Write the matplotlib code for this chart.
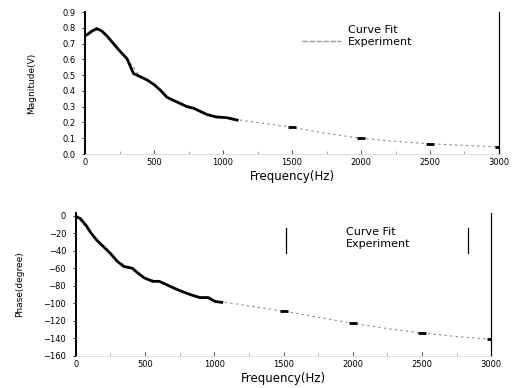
import matplotlib
matplotlib.use("Agg")
import matplotlib.pyplot as plt
from matplotlib.ticker import MultipleLocator
from matplotlib.lines import Line2D

# magnitude, measured (dense part) and a few sparse points
exp_freq_mag = [0, 20, 50, 85, 120, 157, 205, 254, 303, 351, 400, 448, 500,
                545, 593, 640, 690, 740, 787, 835, 884, 950, 1029, 1102]
exp_mag = [0.75, 0.76, 0.78, 0.795, 0.78, 0.75, 0.70, 0.65, 0.605, 0.51, 0.49,
           0.47, 0.44, 0.405, 0.36, 0.34, 0.32, 0.30, 0.29, 0.27, 0.25, 0.235,
           0.23, 0.215]
exp_freq_mag_hi = [1500, 2000, 2500, 3000]
exp_mag_hi = [0.17, 0.10, 0.065, 0.045]

fit_freq_mag = [0, 100, 200, 300, 400, 500, 600, 700, 800, 900, 1000, 1250,
                1500, 1750, 2000, 2250, 2500, 2750, 3000]
fit_mag = [0.75, 0.79, 0.70, 0.61, 0.49, 0.44, 0.36, 0.32, 0.29, 0.25, 0.23,
           0.20, 0.17, 0.13, 0.10, 0.08, 0.065, 0.055, 0.045]

# phase
exp_freq_ph = [0, 10, 30, 73, 110, 151, 200, 249, 298, 346, 407, 444, 493,
               554, 602, 651, 712, 773, 834, 895, 956, 1005, 1054]
exp_phase = [0, -2, -3, -11, -20, -28, -35.5, -43, -52, -58, -60, -65, -71,
             -75, -75, -78.5, -83, -87, -90.5, -93.5, -93.5, -98, -99]
exp_freq_ph_hi = [1500, 2000, 2500, 3000]
exp_phase_hi = [-109, -123, -134, -141]

fit_freq_ph = [0, 100, 200, 300, 400, 500, 600, 700, 800, 900, 1000, 1250,
               1500, 1750, 2000, 2250, 2500, 2750, 3000]
fit_phase = [0, -18, -36, -52, -60, -71, -75, -82, -88, -93, -97, -103,
             -109, -116, -123, -129, -134, -138, -141]

xticks = [0, 500, 1000, 1500, 2000, 2500, 3000]
mag_ticks = [0.0, 0.1, 0.2, 0.3, 0.4, 0.5, 0.6, 0.7, 0.8, 0.9]
phase_ticks = [0, -20, -40, -60, -80, -100, -120, -140, -160]

plt.rcParams['font.family'] = ['DejaVu Sans']

fig = plt.figure(figsize=(5.16, 3.88), dpi=100, facecolor='white')
ax1 = fig.add_axes([0.165, 0.603, 0.802, 0.366])
ax2 = fig.add_axes([0.147, 0.083, 0.805, 0.368])


def style(ax):
    ax.spines['top'].set_visible(False)
    ax.spines['left'].set_linewidth(1.4)
    ax.spines['right'].set_linewidth(0.9)
    ax.spines['bottom'].set_color('#d8d8d8')
    ax.spines['bottom'].set_linewidth(0.6)
    ax.set_xlim(0, 3000)
    ax.set_xticks(xticks)
    ax.xaxis.set_minor_locator(MultipleLocator(250))
    ax.tick_params(axis='x', direction='in', length=3, width=0.7,
                   color='#555555', labelsize=6, pad=3)
    ax.tick_params(axis='x', which='minor', direction='in', length=2,
                   color='#999999')
    ax.tick_params(axis='y', direction='out', length=2, width=0.6,
                   labelsize=6, pad=5)
    ax.set_xlabel('Frequency(Hz)', fontsize=8.5, labelpad=2)


# top: magnitude
style(ax1)
ax1.plot(fit_freq_mag, fit_mag, color='#888888', lw=0.8, ls=(0, (2, 3)))
ax1.plot(exp_freq_mag, exp_mag, color='black', lw=2.0)
ax1.plot(exp_freq_mag_hi, exp_mag_hi, ls='none', marker='_', ms=6, mew=2,
         color='black')
ax1.set_ylim(0, 0.9)
ax1.set_yticks(mag_ticks)
ax1.set_yticklabels([f'{v:.1f}' for v in mag_ticks])
ax1.set_ylabel('Magnitude(V)', fontsize=6.5, labelpad=19)
h1 = [Line2D([], [], color='white', lw=1),
      Line2D([], [], color='#999999', lw=1, ls=(0, (4, 1)))]
ax1.legend(h1, ['Curve Fit', 'Experiment'], loc='upper left',
           bbox_to_anchor=(0.5, 0.98), frameon=False, fontsize=8,
           handlelength=3.5, handletextpad=0.6, labelspacing=0.15)

# bottom: phase
style(ax2)
ax2.plot(fit_freq_ph, fit_phase, color='#888888', lw=0.8, ls=(0, (2, 3)))
ax2.plot(exp_freq_ph, exp_phase, color='black', lw=2.0)
ax2.plot(exp_freq_ph_hi, exp_phase_hi, ls='none', marker='_', ms=6, mew=2,
         color='black')
ax2.set_ylim(-160, 3)
ax2.set_yticks(phase_ticks)
ax2.set_ylabel('Phase(degree)', fontsize=6.5, labelpad=14)
h2 = [Line2D([], [], color='white', lw=1), Line2D([], [], color='white', lw=1)]
ax2.legend(h2, ['Curve Fit', 'Experiment'], loc='upper left',
           bbox_to_anchor=(0.53, 0.97), frameon=False, fontsize=8,
           handlelength=3.0, handletextpad=0.6, labelspacing=0.15)
# the legend box only kept its side edges in the scan
for xe in (0.506, 0.943):
    ax2.plot([xe, xe], [0.72, 0.895], transform=ax2.transAxes, color='black',
             lw=0.9)

fig.savefig('out.png', dpi=100, facecolor='white')
